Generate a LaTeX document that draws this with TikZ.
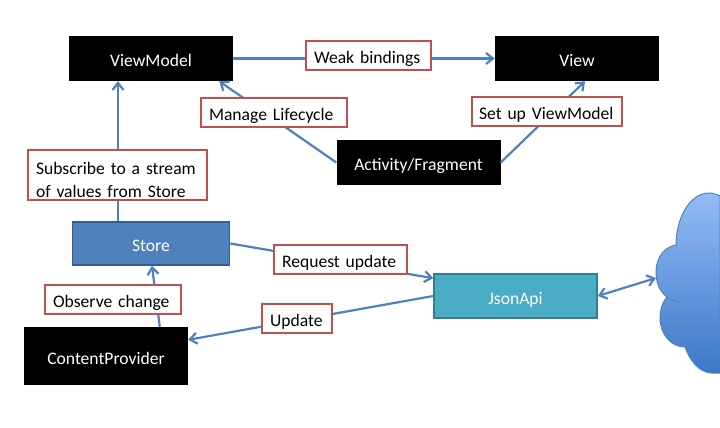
\documentclass[tikz,border=0pt]{standalone}
\usepackage{fontspec}
\setmainfont{Carlito}
\usetikzlibrary{arrows.meta, positioning}
\definecolor{linkblue}{HTML}{4F81BD}
\definecolor{storeedge}{HTML}{385D8A}
\definecolor{apifill}{HTML}{4BACC6}
\definecolor{apiedge}{HTML}{357D91}
\definecolor{notered}{HTML}{C0504D}
\definecolor{cloudtop}{HTML}{93BBF7}
\definecolor{cloudbot}{HTML}{3C78C6}
\begin{document}
\begin{tikzpicture}[
    x=1pt, y=-1pt,
    oneline/.style={text height=18pt, text depth=2pt},
    box/.style={rectangle, fill=black, text=white, minimum width=164pt, oneline,
                minimum height=45pt, inner sep=0pt, align=center, font=\fontsize{17.6}{20}\selectfont},
    note/.style={rectangle, draw=notered, line width=2pt, fill=white, inner xsep=8pt, inner ysep=0pt,
                minimum height=29pt, align=left, font=\fontsize{17.6}{23}\selectfont},
    tag/.style={note, oneline},
    arr/.style={-{Straight Barb[length=7pt, width=11pt]}, line width=2.2pt, draw=linkblue}
]
\useasboundingbox (0,0) rectangle (720,428);

% Black boxes
\node[box] (viewmodel) at (151,58.5)  {ViewModel};
\node[box] (view)      at (577,58.5)  {View};
\node[box] (activity)  at (418.5,162.5) {Activity/Fragment};
\node[box, minimum height=58pt] (provider) at (106,356) {ContentProvider};

% Coloured boxes
\node[box, fill=linkblue, draw=storeedge, line width=1.6pt, minimum width=157pt, minimum height=43pt] (store) at (151,243.5) {Store};
\node[box, fill=apifill, draw=apiedge, line width=1.6pt, minimum width=163pt, minimum height=44pt] (jsonapi) at (515.5,296) {JsonApi};

% Cloud
\shade[top color=cloudtop, bottom color=cloudbot, draw=linkblue, line width=1pt]
    (720,196) .. controls (716,194) and (712,193) .. (709,193)
    .. controls (690,193) and (676,218) .. (676,245)
    .. controls (664,247) and (656,258) .. (656,272)
    .. controls (656,283) and (660,292) .. (667,297)
    .. controls (662,303) and (660,310) .. (660,318)
    .. controls (660,334) and (671,347) .. (685,347)
    .. controls (690,361) and (699,372) .. (711,373)
    -- (720,373) -- cycle;
\draw[linkblue, line width=0.8pt] (667,297) .. controls (671,300) and (675,302) .. (680,302);
\draw[linkblue, line width=0.8pt] (685,347) .. controls (687,347) and (689,346) .. (691,345);
\coordinate (cloudport) at (656,278);

% Connectors
\draw[arr] (viewmodel) -- (view);
\draw[arr] ([xshift=-33pt]store.north) -- ([xshift=-33pt]viewmodel.south);
\draw[arr] (activity.west) -- ([xshift=-14pt]viewmodel.south east);
\draw[arr] (activity.east) -- ([xshift=8pt]view.south);
\draw[arr] (store.east) -- ([yshift=-5pt]jsonapi.north west);
\draw[arr] (jsonapi.west) -- ([yshift=-13pt]provider.north east);
\draw[arr] ([xshift=136pt]provider.north west) -- ([xshift=1pt]store.south);
\draw[arr, {Straight Barb[length=7pt, width=11pt]}-{Straight Barb[length=7pt, width=11pt]}] (jsonapi.east) -- (cloudport);

% Labels on connectors
\node[tag, text width=109pt] (weak) at (368.5,55.5) {Weak bindings};
\node[tag, text width=130pt] (lifecycle) at (274,112.5) {Manage Lifecycle};
\node[tag, text width=140pt, inner xsep=5pt] (setup) at (547,111.5) {\hspace{2pt}Set up ViewModel};
\node[note, text width=163pt, minimum height=50pt] (subscribe) at (117.5,175) {\rule{0pt}{22pt}Subscribe to a stream\\of values from Store};
\node[tag, text width=117pt] (request) at (340.5,259.5) {Request update};
\node[tag, text width=120pt] (observe) at (113,299.5) {Observe change};
\node[tag, text width=54pt] (update) at (297,318.5) {Update};
\end{tikzpicture}
\end{document}
